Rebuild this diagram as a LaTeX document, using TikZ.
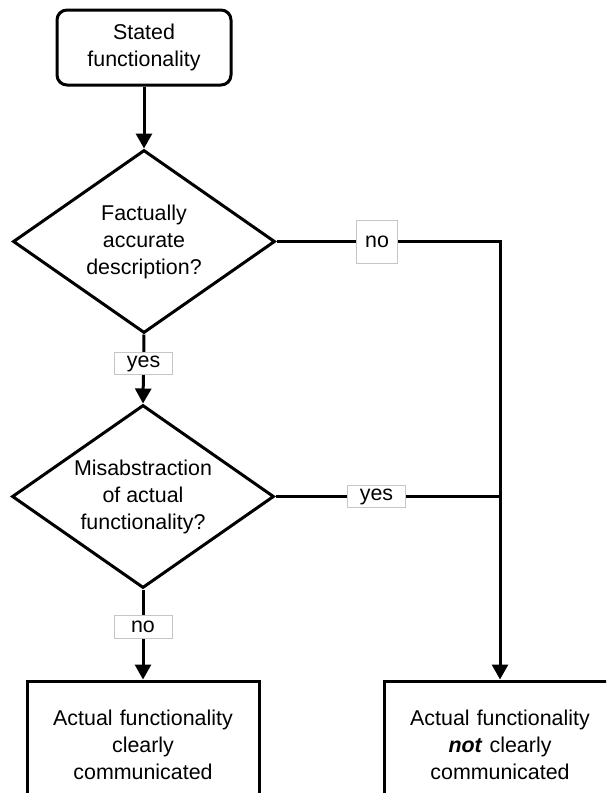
\documentclass[tikz,border=0pt]{standalone}
\usepackage{fontspec}
\setmainfont{Liberation Sans}
\usetikzlibrary{shapes.geometric,arrows.meta}
\begin{document}
\begin{tikzpicture}[x=1pt,y=-1pt,
  every node/.style={font=\fontsize{21.4}{27}\selectfont, align=center},
  every label/.style={font=\fontsize{21.4}{27}\selectfont, align=center},
  line/.style={line width=3pt},
  arr/.style={line, -{Triangle[width=16pt,length=15pt]}},
  dec/.style={diamond, draw, line width=3pt, minimum width=262pt, minimum height=183pt, inner sep=0pt},
  lbl/.style={draw=gray!45, line width=0.8pt, fill=white, inner sep=0pt},
  endbox/.style={draw, line width=3pt, minimum width=232pt, minimum height=127pt, text width=225pt}
]
\useasboundingbox (0,0) rectangle (606,793);
\clip (0,0) rectangle (606,793);
\node[draw, rounded corners=10pt, line width=3pt, minimum width=174pt, minimum height=75pt] (start) at (144,47.5) {Stated\\functionality};
\node[dec, label={center:Factually\\accurate\\description?}] (d1) at (144,241.5) {};
\node[dec, label={center:Misabstraction\\of actual\\functionality?}] (d2) at (143,496.5) {};
\node[endbox] (lbox) at (143,744.5) {Actual functionality\\clearly\\communicated};
\node[endbox] (rbox) at (500,744.5) {Actual functionality\\\textbf{\textit{not}} clearly\\communicated};
\draw[arr] (start.south) -- (d1.north);
\draw[arr] (d1.south) -- node[lbl, pos=0.42, minimum width=58pt, minimum height=22pt] {yes} (d2.north);
\draw[arr] (d1.east) -- node[lbl, pos=0.45, minimum width=41pt, minimum height=43pt] {no} (d1.east -| rbox.north) -- (rbox.north);
\draw[line] (d2.east) -- node[lbl, pos=0.45, minimum width=58pt, minimum height=22pt] {yes} (d2.east -| rbox.north);
\draw[arr] (d2.south) -- node[lbl, pos=0.42, minimum width=58pt, minimum height=23pt] {no} (lbox.north);
\end{tikzpicture}
\end{document}
